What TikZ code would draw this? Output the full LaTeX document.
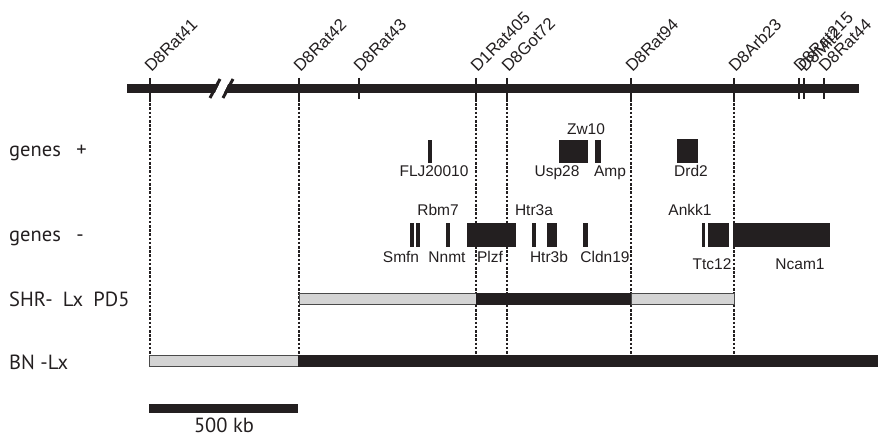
\documentclass[tikz,border=0pt]{standalone}
\usepackage{fontspec}
\setmainfont{Liberation Sans}
\newfontfamily\lblfont{PT Sans}
\definecolor{dk}{HTML}{231F20}
\definecolor{lg}{HTML}{D4D4D4}
\definecolor{ol}{HTML}{4A4A4A}
\tikzset{
  mk/.style={rotate=45,anchor=base west,inner sep=0pt,font=\fontsize{16.8}{17}\selectfont,text=dk},
  glab/.style={anchor=base,inner sep=0pt,font=\fontsize{15.5}{16}\selectfont,text=dk},
  rowlab/.style={anchor=base west,inner sep=0pt,font=\lblfont\fontsize{20.5}{22}\selectfont,text=dk},
  tickmark/.style={line width=2.5pt,draw=dk},
  vdash/.style={draw=dk,line width=1.1pt,dash pattern=on 2.6pt off 1.6pt},
  genebox/.style={fill=dk},
  greyseg/.style={fill=lg,draw=ol,line width=0.7pt},
  blackseg/.style={fill=dk,draw=dk,line width=0.7pt},
}
\begin{document}
\begin{tikzpicture}[x=1pt,y=-1pt]
\useasboundingbox (0,0) rectangle (878,438);
% vertical dashed lines
\foreach \n/\x in {a/150,b/299,c/476,d/507,e/631,f/734}{
  \coordinate (top\n) at (\x,99);
  \coordinate (bot\n) at (\x,355);
  \draw[vdash] (top\n) -- (bot\n);
}
% chromosome bar
\fill[dk] (127,84) rectangle (859,93);
% break mark
\draw[white,line width=8pt] (216.5,99) -- (226.5,78);
\draw[dk,line width=3pt] (210,98) -- (220,79);
\draw[dk,line width=3pt] (223,98) -- (233,79);
% ticks and marker labels
\foreach \n/\x/\t in {m1/150/D8Rat41,m2/299/D8Rat42,m3/359/D8Rat43,m4/476/D1Rat405,m5/507/D8Got72,m6/631/D8Rat94,m7/734/D8Arb23,m8/799/D8Rat215,m9/804/D8Mit2,m10/824/D8Rat44}{
  \draw[tickmark] (\x,78) -- (\x,99);
  \node[mk] (\n) at (\x+1.5,73) {\t};
}
% genes + row
\fill[genebox] (428,140) rectangle (432,163);
\fill[genebox] (559,140) rectangle (588,163);
\fill[genebox] (595,140) rectangle (601,163);
\fill[genebox] (677,139) rectangle (698,163);
\node[glab] (flj) at (434,177) {FLJ20010};
\node[glab] (usp) at (557,177) {Usp28};
\node[glab] (amp) at (610,177) {Amp};
\node[glab] (drd) at (691,177) {Drd2};
\node[glab] (zw) at (586,135) {Zw10};
% genes - row
\fill[genebox] (410,223) rectangle (414,247);
\fill[genebox] (416,223) rectangle (420,247);
\fill[genebox] (446,223) rectangle (450,247);
\fill[genebox] (467,223) rectangle (516,247);
\fill[genebox] (532,223) rectangle (536,247);
\fill[genebox] (547,223) rectangle (557,247);
\fill[genebox] (583,223) rectangle (588,247);
\fill[genebox] (702,223) rectangle (705,247);
\fill[genebox] (708,223) rectangle (729,247);
\fill[genebox] (733,223) rectangle (830,247);
\node[glab] (rbm) at (438,216) {Rbm7};
\node[glab] (htra) at (534,216) {Htr3a};
\node[glab] (ankk) at (690,216) {Ankk1};
\node[glab] (smfn) at (401,263) {Smfn};
\node[glab] (nnmt) at (447,263) {Nnmt};
\node[glab] (plzf) at (490,263) {Plzf};
\node[glab] (htrb) at (549,263) {Htr3b};
\node[glab] (cldn) at (605,263) {Cldn19};
\node[glab] (ttc) at (712,270) {Ttc12};
\node[glab] (ncam) at (800,270) {Ncam1};
% row labels
\node[rowlab] (lplus) at (9,157) {genes\hspace{0.75em}+};
\node[rowlab] (lminus) at (9,242) {genes\hspace{0.75em}-};
\node[rowlab] (lshr) at (9,306) {SHR-\hspace{0.5em}Lx\hspace{0.5em}PD5};
\node[rowlab] (lbn) at (9,369) {BN -Lx};
% SHR-Lx PD5 bar
\draw[greyseg] (299,293) rectangle (476,304);
\draw[blackseg] (476,293) rectangle (631,304);
\draw[greyseg] (631,293) rectangle (734,304);
% BN-Lx bar
\draw[greyseg] (149,355) rectangle (298,366);
\draw[blackseg] (298,355) rectangle (877,366);
% scale bar
\fill[dk] (149,404) rectangle (298,413);
\node[rowlab,anchor=base] (scale) at (224,432) {500 kb};
\end{tikzpicture}
\end{document}
